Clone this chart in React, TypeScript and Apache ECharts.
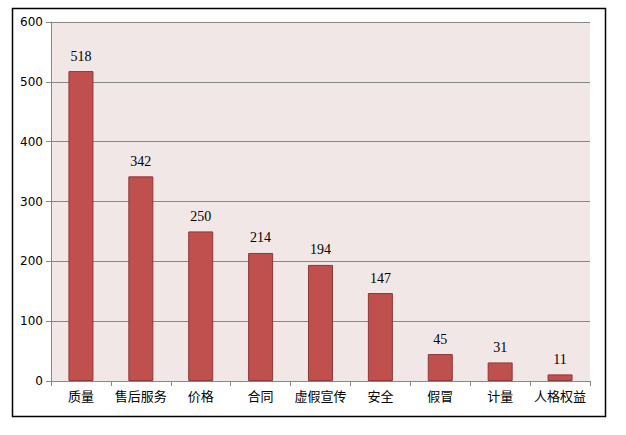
import { useEffect, useRef } from 'react';
import * as echarts from 'echarts';

const categories = ['质量', '售后服务', '价格', '合同', '虚假宣传', '安全', '假冒', '计量', '人格权益'];
const values = [518, 342, 250, 214, 194, 147, 45, 31, 11];
const yTicks = { min: 0, max: 600, interval: 100 };

export default function App() {
  const chartRef = useRef<HTMLDivElement>(null);

  useEffect(() => {
    document.body.style.margin = '0';
    if (!chartRef.current) return;
    const chart = echarts.init(chartRef.current, undefined, { renderer: 'svg' });

    const axisGray = '#878787';
    const sans = '"DejaVu Sans", "Noto Sans CJK SC", sans-serif';

    chart.setOption({
      animation: false,
      backgroundColor: '#ffffff',
      graphic: [
        {
          type: 'rect',
          shape: { x: 12.5, y: 8.5, width: 593, height: 408 },
          style: { fill: 'none', stroke: '#000', lineWidth: 1.5 },
          silent: true,
        },
      ],
      grid: {
        left: 51,
        right: 36,
        top: 22,
        bottom: 54,
        show: true,
        backgroundColor: '#f2e7e7',
        borderWidth: 0,
      },
      xAxis: {
        type: 'category',
        data: categories,
        axisLine: { lineStyle: { color: axisGray, width: 1 } },
        axisTick: { show: true, length: 5, lineStyle: { color: axisGray } },
        axisLabel: {
          color: '#000',
          fontSize: 13,
          fontFamily: sans,
          margin: 9,
          interval: 0,
        },
        splitLine: { show: false },
      },
      yAxis: {
        type: 'value',
        min: yTicks.min,
        max: yTicks.max,
        interval: yTicks.interval,
        axisLine: { show: true, lineStyle: { color: axisGray, width: 1 } },
        axisTick: { show: true, length: 5, lineStyle: { color: axisGray } },
        axisLabel: { color: '#000', fontSize: 12, fontFamily: sans, margin: 8 },
        splitLine: { show: true, lineStyle: { color: axisGray, width: 1 } },
      },
      series: [
        {
          type: 'bar',
          data: values,
          barWidth: 25,
          itemStyle: { color: '#c0504d', borderColor: '#8c3836', borderWidth: 1 },
          label: {
            show: true,
            position: 'top',
            distance: 8,
            color: '#000',
            fontSize: 14,
            fontFamily: '"Liberation Serif", "Times New Roman", serif',
          },
        },
      ],
    });

    return () => {
      chart.dispose();
    };
  }, []);

  return <div ref={chartRef} style={{ width: '626px', height: '435px' }}></div>;
}
